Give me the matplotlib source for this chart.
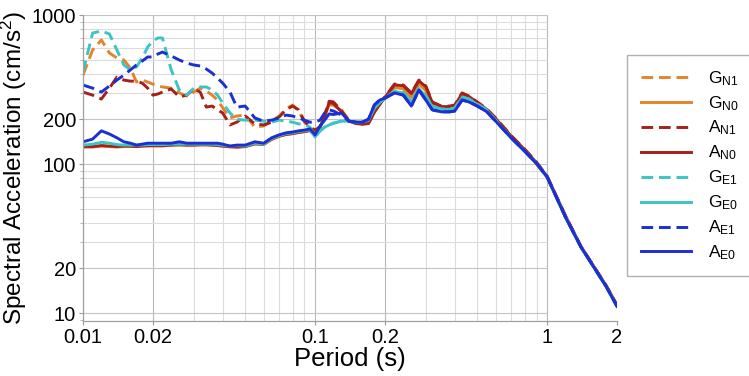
import matplotlib
matplotlib.use("Agg")
import matplotlib.pyplot as plt
from matplotlib.ticker import FixedLocator, NullFormatter

plt.rcParams['font.family'] = ['Liberation Sans', 'DejaVu Sans']
plt.rcParams['mathtext.default'] = 'regular'

# periods (s)
periods = [0.010, 0.011, 0.012, 0.013, 0.014, 0.015, 0.016, 0.017, 0.018, 0.019,
           0.020, 0.021, 0.022, 0.024, 0.026, 0.028, 0.030, 0.032, 0.034, 0.036,
           0.038, 0.040, 0.043, 0.046, 0.050, 0.055, 0.060, 0.065, 0.070, 0.075,
           0.080, 0.085, 0.090, 0.095, 0.100, 0.105, 0.110, 0.115, 0.120, 0.130,
           0.140, 0.150, 0.160, 0.170, 0.180, 0.190, 0.200, 0.220, 0.240, 0.260,
           0.280, 0.300, 0.320, 0.350, 0.380, 0.400, 0.430, 0.460, 0.500, 0.550,
           0.600, 0.700, 0.800, 0.900, 1.000, 1.200, 1.400, 1.600, 1.800, 2.000]

# spectral acceleration (cm/s2)
g_n1 = [395, 582, 680, 556, 515, 499, 441, 355, 366, 355,
        344, 334, 329, 323, 300, 286, 304, 323, 309, 290,
        269, 238, 204, 210, 213, 177, 180, 194, 210, 234,
        249, 227, 191, 174, 167, 180, 217, 261, 257, 231,
        197, 191, 188, 191, 231, 257, 282, 329, 323, 282,
        349, 314, 253, 238, 241, 245, 295, 282, 257, 231,
        200, 152, 124, 101, 82, 44.5, 27.8, 20.2, 15.1, 11.2]
g_n0 = [130, 130, 132, 131, 130, 131, 131, 131, 132, 132,
        132, 132, 132, 134, 134, 134, 134, 134, 134, 134,
        134, 132, 130, 130, 131, 136, 135, 146, 153, 158,
        160, 163, 165, 168, 156, 177, 210, 250, 248, 227,
        194, 190, 188, 190, 229, 255, 280, 326, 320, 280,
        345, 311, 252, 237, 240, 244, 292, 280, 255, 230,
        199, 151, 123, 100, 81.5, 44.3, 27.7, 20.1, 15.1, 11.2]
a_n1 = [304, 290, 273, 323, 383, 366, 360, 360, 349, 323,
        290, 295, 304, 319, 282, 290, 319, 304, 241, 245,
        231, 220, 183, 191, 210, 186, 183, 191, 207, 231,
        245, 231, 194, 177, 169, 177, 213, 264, 261, 227,
        194, 188, 186, 188, 224, 253, 282, 344, 339, 300,
        366, 334, 261, 245, 245, 249, 300, 286, 261, 234,
        204, 155, 126, 103, 83, 45, 28, 20.3, 15.2, 11.3]
a_n0 = [131, 131, 133, 132, 131, 132, 132, 131, 132, 133,
        133, 133, 133, 134, 135, 134, 134, 135, 135, 134,
        133, 132, 131, 130, 131, 137, 136, 147, 154, 158,
        160, 163, 165, 168, 156, 176, 210, 258, 255, 224,
        194, 187, 185, 187, 222, 251, 280, 340, 335, 297,
        362, 330, 259, 243, 243, 247, 297, 284, 259, 232,
        202, 154, 125, 102, 82.5, 44.8, 27.9, 20.2, 15.2, 11.3]
g_e1 = [415, 757, 781, 746, 582, 462, 428, 448, 515, 610,
        669, 701, 701, 428, 314, 290, 323, 329, 329, 314,
        290, 257, 220, 200, 197, 197, 194, 191, 197, 194,
        191, 186, 183, 177, 152, 167, 177, 183, 188, 194,
        194, 191, 191, 197, 238, 261, 277, 309, 304, 261,
        323, 286, 245, 234, 234, 238, 282, 274, 253, 231,
        197, 150, 122, 101, 82, 44, 27.7, 20, 15, 11.1]
g_e0 = [134, 136, 140, 138, 135, 134, 134, 134, 134, 135,
        135, 135, 135, 136, 136, 136, 136, 136, 136, 136,
        135, 134, 132, 133, 132, 138, 136, 148, 155, 160,
        162, 165, 167, 170, 152, 167, 177, 183, 188, 194,
        194, 191, 191, 197, 236, 259, 275, 306, 301, 259,
        320, 284, 243, 233, 233, 237, 279, 272, 251, 229,
        196, 149, 122, 101, 81.5, 44, 27.6, 20, 15, 11.1]
a_e1 = [339, 323, 304, 334, 366, 395, 428, 462, 491, 523,
        523, 547, 564, 531, 499, 476, 462, 455, 434, 408,
        377, 349, 304, 241, 245, 204, 194, 197, 204, 213,
        210, 204, 197, 191, 191, 197, 220, 231, 227, 213,
        194, 191, 191, 200, 249, 269, 277, 300, 290, 245,
        314, 269, 231, 224, 224, 227, 269, 261, 245, 224,
        194, 150, 122, 101, 82, 44, 27.7, 20, 15, 11.1]
a_e0 = [141, 147, 167, 159, 150, 141, 138, 134, 136, 138,
        138, 138, 138, 138, 141, 138, 138, 138, 138, 138,
        138, 136, 132, 134, 134, 141, 138, 150, 157, 162,
        164, 167, 169, 172, 157, 180, 197, 217, 215, 220,
        194, 191, 191, 200, 249, 269, 277, 300, 290, 245,
        314, 269, 231, 224, 224, 227, 269, 261, 245, 224,
        194, 150, 122, 101, 82, 44, 27.7, 20, 15, 11.1]

labels = ['G$_{N1}$', 'G$_{N0}$', 'A$_{N1}$', 'A$_{N0}$',
          'G$_{E1}$', 'G$_{E0}$', 'A$_{E1}$', 'A$_{E0}$']
series = [g_n1, g_n0, a_n1, a_n0, g_e1, g_e0, a_e1, a_e0]
colors = ['#e5832c', '#e5832c', '#a52019', '#a52019',
          '#3cc4c4', '#3cc4c4', '#1c2fd2', '#1c2fd2']
dashed = [True, False, True, False, True, False, True, False]

x_ticks = [0.01, 0.02, 0.1, 0.2, 1, 2]
x_ticklabels = ['0.01', '0.02', '0.1', '0.2', '1', '2']
y_ticks = [10, 20, 100, 200, 1000]
y_ticklabels = ['10', '20', '100', '200', '1000']

fig = plt.figure(figsize=(7.49, 3.76), dpi=100)
ax = fig.add_axes([83 / 749, 1 - 321 / 376, 534 / 749, 306 / 376])
ax.set_xscale('log')
ax.set_yscale('log')
ax.set_xlim(0.01, 2)
ax.set_ylim(8.85, 1000)

# grid only reaches up to T = 1 s
xgrid = [d * k for d in (0.01, 0.1) for k in range(1, 10)] + [1.0]
ygrid = [d * k for d in (10, 100) for k in range(1, 10)] + [1000]
for xv in xgrid:
    c = '#b8b8b8' if xv in (0.02, 0.1, 0.2, 1.0) else '#dcdcdc'
    ax.vlines(xv, 8.85, 1000, color=c, lw=0.8, zorder=0)
for yv in ygrid:
    c = '#c4c4c4' if yv in (10, 20, 100, 200, 1000) else '#dcdcdc'
    ax.hlines(yv, 0.01, 1.0, color=c, lw=0.8, zorder=0)

for vals, lab, col, dsh in zip(series, labels, colors, dashed):
    if dsh:
        ax.plot(periods, vals, color=col, lw=2.1, ls=(0, (4, 2)), label=lab)
    else:
        ax.plot(periods, vals, color=col, lw=2.1, label=lab)

ax.xaxis.set_major_locator(FixedLocator(x_ticks))
ax.set_xticklabels(x_ticklabels)
ax.xaxis.set_minor_formatter(NullFormatter())
ax.yaxis.set_major_locator(FixedLocator(y_ticks))
ax.set_yticklabels(y_ticklabels)
ax.yaxis.set_minor_formatter(NullFormatter())
ax.tick_params(axis='both', which='major', labelsize=14.5, length=3,
               color='#999999', pad=2)
ax.tick_params(axis='x', which='minor', length=0)
ax.tick_params(axis='y', which='minor', length=2, color='#aaaaaa')

for s in ('top', 'right'):
    ax.spines[s].set_visible(False)
for s in ('left', 'bottom'):
    ax.spines[s].set_color('#a0a0a0')
    ax.spines[s].set_linewidth(0.9)

ax.set_xlabel('Period (s)', fontsize=18.5, labelpad=0)
ax.set_ylabel('Spectral Acceleration (cm/s$^2$)', fontsize=17.5, labelpad=2)

leg = fig.legend(loc='upper left', bbox_to_anchor=(627 / 749, 1 - 55 / 376),
                 borderaxespad=0, fontsize=12.5, handlelength=2.9,
                 labelspacing=0.36, borderpad=0.8, handletextpad=0.95,
                 fancybox=False, edgecolor='#b0b0b0', framealpha=1)
leg.get_frame().set_linewidth(1.0)

fig.savefig('out.png', dpi=100)
